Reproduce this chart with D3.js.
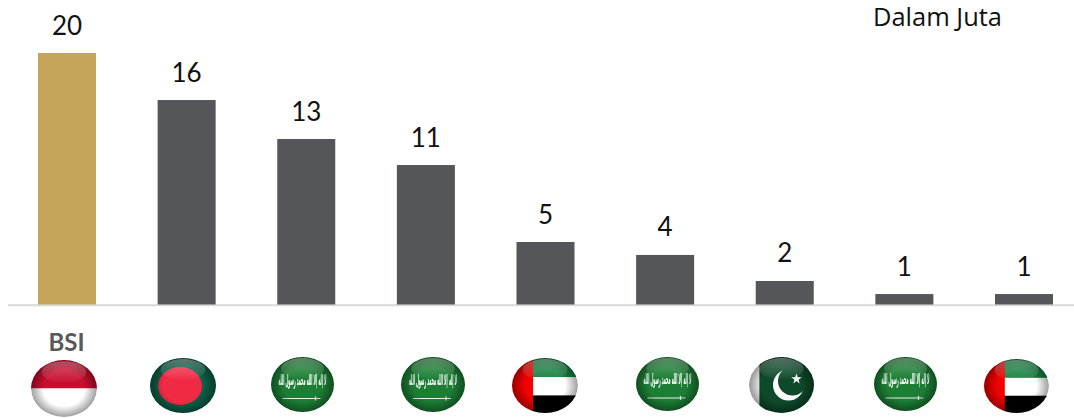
<!DOCTYPE html>
<html>
<head>
<meta charset="utf-8">
<script src="https://cdn.jsdelivr.net/npm/d3@7"></script>
<style>
  html, body { margin: 0; padding: 0; background: #fff; overflow: hidden; }
  text { font-family: Lato, "Open Sans", sans-serif; }
</style>
</head>
<body>
<svg id="chart" width="1074" height="418"></svg>
<script>
const banks = ["BSI", "Bangladesh", "Saudi A", "Saudi B", "UAE A", "Saudi C", "Pakistan", "Saudi D", "UAE B"];
const assets = [20, 16.26, 13.16, 11.09, 4.97, 3.94, 1.87, 0.83, 0.83];
const valueLabels = ["20", "16", "13", "11", "5", "4", "2", "1", "1"];
const flagCodes = ["id", "bd", "sa", "sa", "ae", "sa", "pk", "sa", "ae"];

// flags do not sit exactly under the bars in the original
const flagX = [64, 183, 302.5, 433, 545, 667.5, 781.5, 905.5, 1016.5];
const flagY = [388.5, 385.5, 384.5, 384.5, 385.5, 384, 385, 384, 386];
const flagRx = [33, 33, 31.5, 32, 33, 31.5, 32.5, 31.5, 32.5];
const flagRy = [28.5, 27.5, 27.5, 27.5, 27.5, 27, 28, 27, 27];

const svg = d3.select("#chart");
const defs = svg.append("defs");

const x = d3.scaleBand().domain(banks).range([38, 1053]).paddingInner(0.515).paddingOuter(0);
const y = d3.scaleLinear().domain([0, 20]).range([304.5, 53]);

svg.append("line")
  .attr("x1", 8).attr("x2", 1074)
  .attr("y1", 305.2).attr("y2", 305.2)
  .attr("stroke", "#d9d9d9").attr("stroke-width", 2);

svg.selectAll("rect.bar").data(banks).enter().append("rect")
  .attr("class", "bar")
  .attr("x", d => x(d))
  .attr("width", x.bandwidth())
  .attr("y", (d, i) => y(assets[i]))
  .attr("height", (d, i) => y(0) - y(assets[i]))
  .attr("fill", (d, i) => i === 0 ? "#c4a55a" : "#54565a");

svg.selectAll("text.value").data(banks).enter().append("text")
  .attr("class", "value")
  .attr("x", d => x(d) + x.bandwidth() / 2)
  .attr("y", (d, i) => y(assets[i]) - 18.5)
  .attr("text-anchor", "middle")
  .attr("font-size", 26)
  .attr("fill", "#111")
  .text((d, i) => valueLabels[i]);

svg.append("text")
  .attr("x", 873).attr("y", 25.5)
  .style("font-family", "'Open Sans'")
  .attr("font-size", 25.5)
  .attr("textLength", 129)
  .attr("lengthAdjust", "spacingAndGlyphs")
  .attr("fill", "#111")
  .text("Dalam Juta");

svg.append("text")
  .attr("x", 66.5).attr("y", 350.5)
  .attr("text-anchor", "middle")
  .attr("font-size", 24)
  .attr("font-weight", "bold")
  .attr("fill", "#595959")
  .text("BSI");

// gloss + edge shading shared by all flags
const edge = defs.append("radialGradient").attr("id", "edge");
edge.append("stop").attr("offset", "62%").attr("stop-color", "#000").attr("stop-opacity", 0);
edge.append("stop").attr("offset", "100%").attr("stop-color", "#000").attr("stop-opacity", 0.38);

const gloss = defs.append("linearGradient").attr("id", "gloss")
  .attr("x1", 0).attr("y1", 0).attr("x2", 0).attr("y2", 1);
gloss.append("stop").attr("offset", "0%").attr("stop-color", "#fff").attr("stop-opacity", 0.3);
gloss.append("stop").attr("offset", "100%").attr("stop-color", "#fff").attr("stop-opacity", 0.02);

defs.append("filter").attr("id", "soft")
  .append("feGaussianBlur").attr("stdDeviation", 0.4);

function drawIndonesia(g, rx, ry) {
  g.append("rect").attr("x", -rx).attr("y", -ry).attr("width", 2 * rx).attr("height", ry).attr("fill", "#c8102e");
  g.append("rect").attr("x", -rx).attr("y", 0).attr("width", 2 * rx).attr("height", ry).attr("fill", "#fff");
}

function drawBangladesh(g, rx, ry) {
  g.append("rect").attr("x", -rx).attr("y", -ry).attr("width", 2 * rx).attr("height", 2 * ry).attr("fill", "#0b6148");
  g.append("ellipse").attr("cx", -3).attr("cy", 0.5).attr("rx", 22).attr("ry", 19).attr("fill", "#f02a44");
}

function drawSaudi(g, rx, ry) {
  g.append("rect").attr("x", -rx).attr("y", -ry).attr("width", 2 * rx).attr("height", 2 * ry).attr("fill", "#1c7d36");
  const script = g.append("text")
    .attr("text-anchor", "middle")
    .attr("direction", "rtl")
    .style("font-family", "'DejaVu Sans'")
    .attr("font-weight", "bold")
    .attr("font-size", 15)
    .attr("fill", "#fff")
    .text("لا إله إلا الله محمد رسول الله");
  // squeeze the shahada to the width it has on the flag
  const squeeze = 48 / script.node().getComputedTextLength();
  script.attr("transform", `translate(0,0) scale(${squeeze},1)`);
  g.append("line").attr("x1", -20).attr("x2", 18).attr("y1", 14).attr("y2", 14)
    .attr("stroke", "#e6efe8").attr("stroke-width", 1.1);
  g.append("line").attr("x1", 13).attr("x2", 13).attr("y1", 12).attr("y2", 16)
    .attr("stroke", "#e6efe8").attr("stroke-width", 1.2);
}

function drawEmirates(g, rx, ry) {
  const hoist = -rx + 2 * rx * 0.32;
  g.append("rect").attr("x", -rx).attr("y", -ry).attr("width", 2 * rx).attr("height", ry * 0.7).attr("fill", "#158040");
  g.append("rect").attr("x", -rx).attr("y", -ry * 0.3).attr("width", 2 * rx).attr("height", ry * 0.66).attr("fill", "#fff");
  g.append("rect").attr("x", -rx).attr("y", ry * 0.36).attr("width", 2 * rx).attr("height", ry * 0.64).attr("fill", "#000");
  g.append("rect").attr("x", -rx).attr("y", -ry).attr("width", hoist + rx).attr("height", 2 * ry).attr("fill", "#f00000");
}

function drawPakistan(g, rx, ry) {
  g.append("rect").attr("x", -rx).attr("y", -ry).attr("width", 2 * rx).attr("height", 2 * ry).attr("fill", "#0b4a2a");
  g.append("rect").attr("x", -rx).attr("y", -ry).attr("width", 2 * rx * 0.16).attr("height", 2 * ry).attr("fill", "#f1f1f1");
  g.append("circle").attr("cx", 7).attr("cy", 0).attr("r", 15.5).attr("fill", "#fff");
  g.append("circle").attr("cx", 11).attr("cy", -4).attr("r", 14.5).attr("fill", "#0b4a2a");
  const star = d3.symbol().type(d3.symbolStar).size(34);
  g.append("path").attr("d", star()).attr("transform", "translate(15,-6)").attr("fill", "#fff");
}

const flagDrawers = { id: drawIndonesia, bd: drawBangladesh, sa: drawSaudi, ae: drawEmirates, pk: drawPakistan };

const flags = svg.selectAll("g.flag").data(flagCodes).enter().append("g")
  .attr("class", "flag")
  .attr("transform", (d, i) => `translate(${flagX[i]},${flagY[i]})`);

flags.each(function(code, i) {
  const rx = flagRx[i], ry = flagRy[i];
  defs.append("clipPath").attr("id", "clip" + i)
    .append("ellipse").attr("rx", rx).attr("ry", ry);
  const g = d3.select(this).append("g")
    .attr("clip-path", `url(#clip${i})`);
  const art = g.append("g").attr("filter", "url(#soft)");
  flagDrawers[code](art, rx, ry);
  g.append("ellipse").attr("rx", rx).attr("ry", ry).attr("fill", "url(#edge)");
  g.append("ellipse")
    .attr("cy", -ry * 0.58).attr("rx", rx * 0.68).attr("ry", ry * 0.38)
    .attr("fill", "url(#gloss)");
});
</script>
</body>
</html>
